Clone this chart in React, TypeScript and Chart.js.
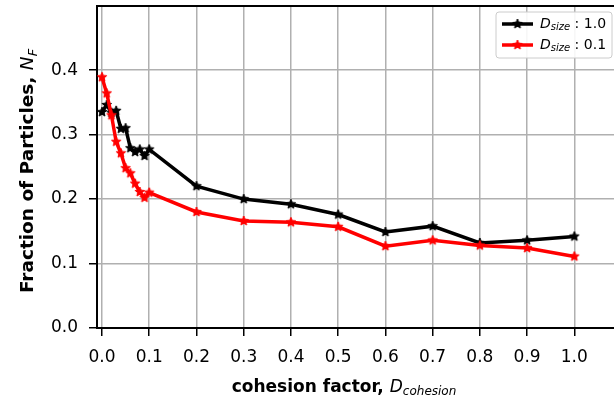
import React, { useEffect, useRef } from "react";
import { Chart, registerables } from "chart.js";

Chart.register(...registerables);

const cohesionFactor = [0, 0.01, 0.02, 0.03, 0.04, 0.05, 0.06, 0.07, 0.08, 0.09, 0.1, 0.2, 0.3, 0.4, 0.5, 0.6, 0.7, 0.8, 0.9, 1.0];
const fractionSize10 = [0.335, 0.346, 0.334, 0.337, 0.309, 0.31, 0.279, 0.273, 0.277, 0.267, 0.277, 0.22, 0.2, 0.192, 0.176, 0.149, 0.158, 0.132, 0.136, 0.142];
const fractionSize01 = [0.389, 0.364, 0.33, 0.289, 0.271, 0.248, 0.24, 0.224, 0.211, 0.202, 0.21, 0.18, 0.166, 0.164, 0.157, 0.127, 0.136, 0.128, 0.124, 0.111];
const seriesLabels = ["1.0", "0.1"];
const seriesColors = ["#000000", "#ff0000"];
const xTickValues = [0, 0.1, 0.2, 0.3, 0.4, 0.5, 0.6, 0.7, 0.8, 0.9, 1.0];
const yTickValues = [0, 0.1, 0.2, 0.3, 0.4];

const FONT = "'DejaVu Sans', sans-serif";

function makeStar(color: string, r: number): HTMLCanvasElement {
  const size = Math.ceil(r * 2 + 2);
  const c = document.createElement("canvas");
  c.width = size;
  c.height = size;
  const g = c.getContext("2d")!;
  const cx = size / 2;
  const cy = size / 2;
  g.beginPath();
  for (let i = 0; i < 10; i++) {
    const rad = i % 2 === 0 ? r : r * 0.45;
    const a = -Math.PI / 2 + (i * Math.PI) / 5;
    const px = cx + rad * Math.cos(a);
    const py = cy + rad * Math.sin(a);
    if (i === 0) g.moveTo(px, py);
    else g.lineTo(px, py);
  }
  g.closePath();
  g.fillStyle = color;
  g.fill();
  g.lineWidth = 1;
  g.strokeStyle = color;
  g.stroke();
  return c;
}

type Seg = { text: string; font: string; dy: number };

function richWidth(ctx: CanvasRenderingContext2D, segs: Seg[]) {
  let w = 0;
  for (const s of segs) {
    ctx.font = s.font;
    w += ctx.measureText(s.text).width;
  }
  return w;
}

function drawRich(ctx: CanvasRenderingContext2D, segs: Seg[], x: number, y: number) {
  let cx = x;
  for (const s of segs) {
    ctx.font = s.font;
    ctx.fillText(s.text, cx, y + s.dy);
    cx += ctx.measureText(s.text).width;
  }
}

export default function App() {
  const ref = useRef<HTMLCanvasElement>(null);

  useEffect(() => {
    document.body.style.margin = "0";
    document.body.style.overflow = "hidden";
    const canvas = ref.current!;
    const stars = seriesColors.map((c) => makeStar(c, 5));

    const decor = {
      id: "decor",
      afterDraw(chart: any) {
        const ctx: CanvasRenderingContext2D = chart.ctx;
        const a = chart.chartArea;
        ctx.save();
        // top spine
        ctx.strokeStyle = "#000";
        ctx.lineWidth = 2;
        ctx.beginPath();
        ctx.moveTo(a.left - 1, a.top);
        ctx.lineTo(a.right, a.top);
        ctx.stroke();

        ctx.fillStyle = "#000";
        ctx.textBaseline = "alphabetic";
        // x title
        const xs: Seg[] = [
          { text: "cohesion factor, ", font: `bold 17px ${FONT}`, dy: 0 },
          { text: "D", font: `italic 17px ${FONT}`, dy: 0 },
          { text: "cohesion", font: `italic 12px ${FONT}`, dy: 3 },
        ];
        const xw = richWidth(ctx, xs);
        drawRich(ctx, xs, 344 - xw / 2, 392);

        // y title
        const ys: Seg[] = [
          { text: "Fraction of Particles, ", font: `bold 18.5px ${FONT}`, dy: 0 },
          { text: "N", font: `italic 18.5px ${FONT}`, dy: 0 },
          { text: "F", font: `italic 13px ${FONT}`, dy: 3.5 },
        ];
        const yw = richWidth(ctx, ys);
        ctx.save();
        ctx.translate(33, 171);
        ctx.rotate(-Math.PI / 2);
        drawRich(ctx, ys, -yw / 2, 0);
        ctx.restore();

        // legend
        const bx = 496, by = 12, bw = 116, bh = 46;
        ctx.beginPath();
        const rr = 3;
        ctx.moveTo(bx + rr, by);
        ctx.lineTo(bx + bw - rr, by);
        ctx.quadraticCurveTo(bx + bw, by, bx + bw, by + rr);
        ctx.lineTo(bx + bw, by + bh - rr);
        ctx.quadraticCurveTo(bx + bw, by + bh, bx + bw - rr, by + bh);
        ctx.lineTo(bx + rr, by + bh);
        ctx.quadraticCurveTo(bx, by + bh, bx, by + bh - rr);
        ctx.lineTo(bx, by + rr);
        ctx.quadraticCurveTo(bx, by, bx + rr, by);
        ctx.closePath();
        ctx.fillStyle = "rgba(255,255,255,0.9)";
        ctx.fill();
        ctx.strokeStyle = "#cccccc";
        ctx.lineWidth = 1;
        ctx.stroke();

        seriesLabels.forEach((lab, i) => {
          const ly = 24 + i * 21;
          ctx.strokeStyle = seriesColors[i];
          ctx.lineWidth = 3.5;
          ctx.beginPath();
          ctx.moveTo(502, ly);
          ctx.lineTo(533, ly);
          ctx.stroke();
          const s = stars[i];
          ctx.drawImage(s, 517.5 - s.width / 2, ly - s.height / 2);
          ctx.fillStyle = "#000";
          ctx.textBaseline = "middle";
          const segs: Seg[] = [
            { text: "D", font: `italic 14px ${FONT}`, dy: 0 },
            { text: "size", font: `italic 10px ${FONT}`, dy: 3 },
            { text: " : " + lab, font: `14px ${FONT}`, dy: 0 },
          ];
          drawRich(ctx, segs, 540, ly);
        });
        ctx.restore();
      },
    };

    const datasetValues = [fractionSize10, fractionSize01];
    const chart = new Chart(canvas, {
      type: "line",
      data: {
        datasets: datasetValues.map((vals, i) => ({
          label: "D_size : " + seriesLabels[i],
          data: cohesionFactor.map((x, j) => ({ x, y: vals[j] })),
          borderColor: seriesColors[i],
          backgroundColor: seriesColors[i],
          borderWidth: 3.5,
          pointStyle: stars[i],
          pointRadius: 5,
          fill: false,
          tension: 0,
          order: i === 0 ? 1 : 0,
        })),
      },
      options: {
        animation: false,
        responsive: false,
        maintainAspectRatio: false,
        layout: { autoPadding: false, padding: { top: 6, right: 0, left: 0, bottom: 0 } },
        plugins: {
          legend: { display: false },
          tooltip: { enabled: false },
          title: { display: false },
        },
        scales: {
          x: {
            type: "linear",
            min: -0.0106,
            max: 1.084,
            afterBuildTicks: (axis: any) => {
              axis.ticks = xTickValues.map((v) => ({ value: v }));
            },
            afterFit: (axis: any) => {
              axis.height = 77;
              axis.paddingLeft = 0;
              axis.paddingRight = 0;
            },
            grid: {
              color: "#b0b0b0",
              lineWidth: 1.5,
              tickColor: "#000",
              tickLength: 8,
              drawOnChartArea: true,
            },
            border: { display: true, color: "#000", width: 2 },
            ticks: {
              color: "#000",
              font: { family: FONT, size: 17 },
              padding: 11,
              maxRotation: 0,
              autoSkip: false,
              callback: (v: any) => Number(v).toFixed(1),
            },
          },
          y: {
            type: "linear",
            min: 0,
            max: 0.4995,
            afterBuildTicks: (axis: any) => {
              axis.ticks = yTickValues.map((v) => ({ value: v }));
            },
            afterFit: (axis: any) => {
              axis.width = 97;
              axis.paddingTop = 0;
              axis.paddingBottom = 0;
            },
            grid: {
              color: "#b0b0b0",
              lineWidth: 1.5,
              tickColor: "#000",
              tickLength: 8,
            },
            border: { display: true, color: "#000", width: 2 },
            ticks: {
              color: "#000",
              font: { family: FONT, size: 17 },
              padding: 11,
              autoSkip: false,
              callback: (v: any) => Number(v).toFixed(1),
            },
          },
        },
      },
      plugins: [decor],
    } as any);
    return () => chart.destroy();
  }, []);

  return <canvas ref={ref} width={614} height={405} style={{ display: "block" }} />;
}
